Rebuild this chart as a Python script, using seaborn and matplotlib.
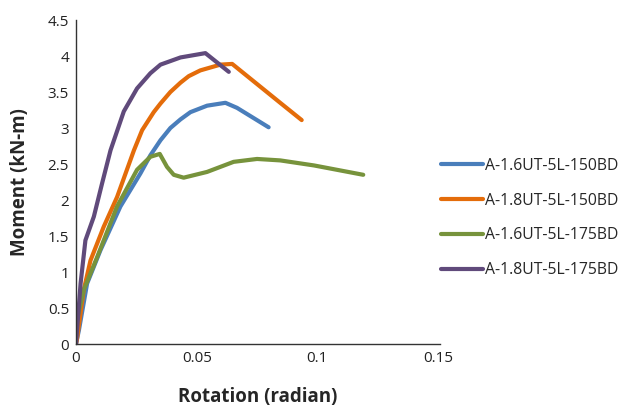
import matplotlib
matplotlib.use("Agg")
import matplotlib.pyplot as plt
import seaborn as sns
import pandas as pd

# Rotation (radian) / Moment (kN-m)
x_a16_150 = [0.0, 0.0012, 0.0046, 0.0101, 0.0184, 0.0267, 0.0308, 0.035, 0.0391, 0.0433,
             0.0474, 0.0543, 0.0619, 0.0667, 0.0798]
y_a16_150 = [0.0, 0.19, 0.84, 1.30, 1.91, 2.37, 2.62, 2.83, 3.00, 3.12,
             3.22, 3.31, 3.35, 3.28, 3.01]

x_a18_150 = [0.0, 0.0005, 0.0032, 0.006, 0.0115, 0.017, 0.024, 0.0274, 0.0322, 0.035,
             0.0391, 0.0433, 0.0467, 0.0515, 0.0598, 0.0647, 0.0846, 0.0935]
y_a18_150 = [0.0, 0.09, 0.75, 1.16, 1.63, 2.04, 2.69, 2.97, 3.22, 3.34,
             3.50, 3.63, 3.72, 3.80, 3.88, 3.89, 3.35, 3.11]

x_a16_175 = [0.0, 0.0032, 0.0088, 0.017, 0.0253, 0.0308, 0.0347, 0.0377, 0.0405, 0.0446,
             0.0543, 0.0653, 0.075, 0.0846, 0.0986, 0.119]
y_a16_175 = [0.28, 0.75, 1.21, 1.91, 2.42, 2.60, 2.64, 2.46, 2.35, 2.31,
             2.39, 2.53, 2.57, 2.55, 2.48, 2.35]

x_a18_175 = [0.0, 0.0019, 0.0039, 0.0074, 0.0108, 0.0143, 0.0198, 0.0253, 0.0308, 0.035,
             0.0433, 0.0536, 0.0633]
y_a18_175 = [0.0, 0.84, 1.44, 1.77, 2.23, 2.69, 3.23, 3.55, 3.76, 3.88,
             3.98, 4.04, 3.78]

series = ["A-1.6UT-5L-150BD", "A-1.8UT-5L-150BD", "A-1.6UT-5L-175BD", "A-1.8UT-5L-175BD"]
colors = ["#4a7ebb", "#e46c0a", "#77933c", "#604a7b"]

frames = []
for name, xs, ys in zip(series,
                        [x_a16_150, x_a18_150, x_a16_175, x_a18_175],
                        [y_a16_150, y_a18_150, y_a16_175, y_a18_175]):
    frames.append(pd.DataFrame({"Rotation": xs, "Moment": ys, "Specimen": name}))
df = pd.concat(frames, ignore_index=True)

sns.set_theme(style="white")
plt.rcParams["font.family"] = ["Open Sans", "DejaVu Sans"]

fig = plt.figure(figsize=(6.28, 4.09), dpi=100)
ax = fig.add_axes([76 / 628, 1 - 344 / 409, (440 - 76) / 628, (344 - 20) / 409])

sns.lineplot(data=df, x="Rotation", y="Moment", hue="Specimen", hue_order=series,
             palette=colors, sort=False, estimator=None, linewidth=3.0, ax=ax)
for ln in ax.get_lines():
    ln.set_solid_capstyle("round")
    ln.set_solid_joinstyle("round")

ax.set_xlim(0, 0.1508)
ax.set_ylim(0, 4.5)
ax.set_xticks([0, 0.05, 0.1, 0.15])
ax.set_xticklabels(["0", "0.05", "0.1", "0.15"])
ax.set_yticks([0, 0.5, 1, 1.5, 2, 2.5, 3, 3.5, 4, 4.5])
ax.set_yticklabels(["0", "0.5", "1", "1.5", "2", "2.5", "3", "3.5", "4", "4.5"])
ax.tick_params(axis="both", labelsize=11, length=0, pad=5, labelcolor="#222222")
for s in ["top", "right"]:
    ax.spines[s].set_visible(False)
for s in ["left", "bottom"]:
    ax.spines[s].set_color("#333333")
    ax.spines[s].set_linewidth(1.0)

ax.set_xlabel("Rotation (radian)", fontsize=13.5, fontweight="bold", labelpad=15)
ax.set_ylabel("Moment (kN-m)", fontsize=13.5, fontweight="bold", labelpad=13)

leg = ax.legend(loc="center left", frameon=False,
                fontsize=11.3, handlelength=2.7, handletextpad=0.1, labelspacing=1.2,
                borderaxespad=0, borderpad=0)
leg.set_bbox_to_anchor((441 / 628, 1 - 218 / 409), transform=fig.transFigure)
for line in leg.get_lines():
    line.set_linewidth(3.0)
    line.set_solid_capstyle("round")

fig.savefig("out.png", dpi=100)
